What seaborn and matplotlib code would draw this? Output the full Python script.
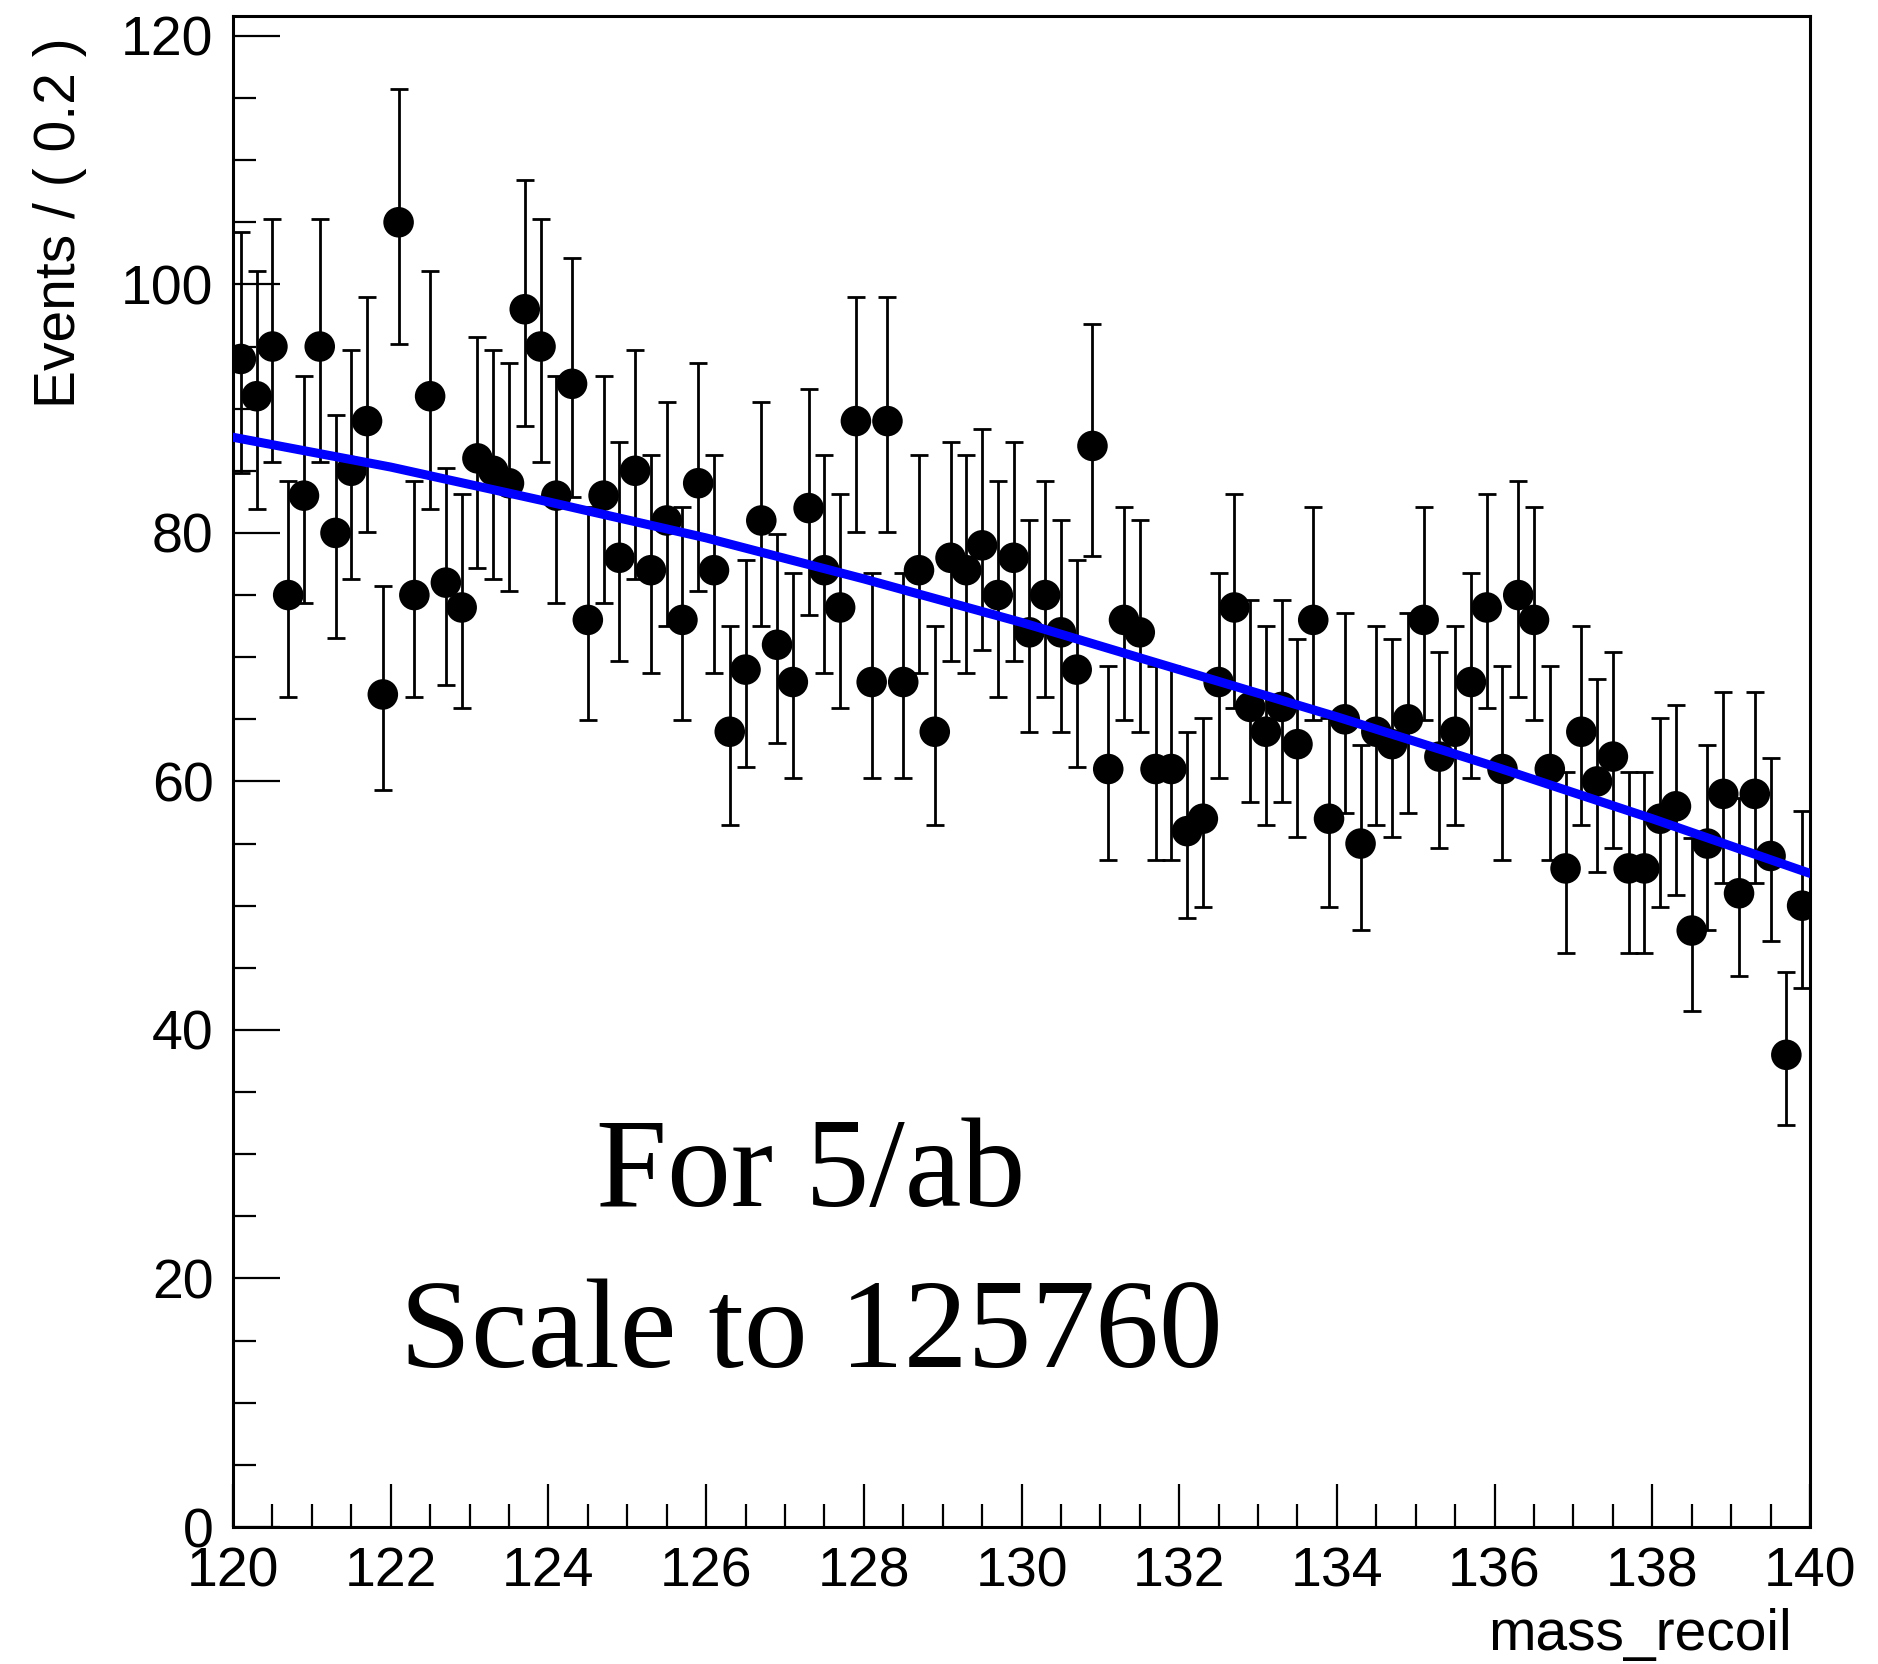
import numpy as np
import pandas as pd
import matplotlib
matplotlib.use("Agg")
import matplotlib.pyplot as plt
import seaborn as sns
from matplotlib.ticker import MultipleLocator

# ---------------- data ----------------
mass_min, mass_max, bin_width = 120.0, 140.0, 0.2

counts = [94, 91, 95, 75, 83, 95, 80, 85, 89, 67,
          105, 75, 91, 76, 74, 86, 85, 84, 98, 95,
          83, 92, 73, 83, 78, 85, 77, 81, 73, 84,
          77, 64, 69, 81, 71, 68, 82, 77, 74, 89,
          68, 89, 68, 77, 64, 78, 77, 79, 75, 78,
          72, 75, 72, 69, 87, 61, 73, 72, 61, 61,
          56, 57, 68, 74, 66, 64, 66, 63, 73, 57,
          65, 55, 64, 63, 65, 73, 62, 64, 68, 74,
          61, 75, 73, 61, 53, 64, 60, 62, 53, 53,
          57, 58, 48, 55, 59, 51, 59, 54, 38, 50]

fit_mass = [120, 122, 124, 126, 128, 130, 132, 134, 136, 138, 140]
fit_events = [87.7, 85.3, 82.5, 79.6, 76.3, 72.8, 69.0, 65.2, 61.2, 57.0, 52.6]

x_ticks = [120, 122, 124, 126, 128, 130, 132, 134, 136, 138, 140]
y_ticks = [0, 20, 40, 60, 80, 100, 120]

y_label = "Events / ( 0.2 )"
x_label = "mass_recoil"
note_lines = ["For 5/ab", "Scale to 125760"]

# ---------------- derived ----------------
n_bins = len(counts)
centers = mass_min + bin_width * (np.arange(n_bins) + 0.5)
cnt = np.asarray(counts, dtype=float)
err_lo = np.sqrt(cnt + 0.25) - 0.5   # Poisson interval (approx.)
err_hi = np.sqrt(cnt + 0.25) + 0.5
df = pd.DataFrame({"mass": centers, "events": cnt})
fit_df = pd.DataFrame({"mass": fit_mass, "events": fit_events})

# ---------------- style ----------------
sns.set_theme(style="ticks")
plt.rcParams['font.family'] = ['Liberation Sans', 'DejaVu Sans']

W, H = 1878, 1664
fig = plt.figure(figsize=(W / 100, H / 100), dpi=100)
left, right, bottom, top = 233 / W, 1810 / W, 1 - 1527 / H, 1 - 16 / H
ax = fig.add_axes([left, bottom, right - left, top - bottom])

ax.errorbar(df["mass"], df["events"], yerr=[err_lo, err_hi], fmt='none',
            ecolor='black', elinewidth=2.0, capsize=6.5, capthick=2.0, zorder=2)
sns.scatterplot(data=df, x="mass", y="events", s=22 ** 2, color='black',
                edgecolor='none', linewidth=0, ax=ax, zorder=3, legend=False)
sns.lineplot(data=fit_df, x="mass", y="events", color='#0000ff', lw=6.5,
             ax=ax, zorder=4, legend=False)

ax.set_xlim(mass_min, mass_max)
ax.set_ylim(0, 121.6)
ax.set_xticks(x_ticks)
ax.set_yticks(y_ticks)
ax.xaxis.set_minor_locator(MultipleLocator(0.5))
ax.yaxis.set_minor_locator(MultipleLocator(5))
ax.set_xlabel("")
ax.set_ylabel("")

ax.tick_params(which='both', direction='in', top=False, right=False,
               color='black', labelcolor='black', labelsize=40, pad=14)
ax.tick_params(axis='y', which='major', length=34, width=1.6)
ax.tick_params(axis='y', which='minor', length=16.5, width=1.6)
ax.tick_params(axis='x', which='major', length=31, width=1.6)
ax.tick_params(axis='x', which='minor', length=16.5, width=1.6)
for sp in ax.spines.values():
    sp.set_visible(True)
    sp.set_color('black')
    sp.set_linewidth(2.2)

fig.text(60 / W, 1 - 37 / H, y_label, rotation=90, ha='center', va='top',
         fontsize=41, color='black')
fig.text(1792 / W, 1 - 1650 / H, x_label, ha='right', va='baseline',
         fontsize=41, color='black')

fig.text(811 / W, 1 - 1206 / H, note_lines[0], ha='center', va='baseline',
         fontsize=92, family=['Liberation Serif', 'DejaVu Serif'], color='black')
fig.text(811 / W, 1 - 1367 / H, note_lines[1], ha='center', va='baseline',
         fontsize=92, family=['Liberation Serif', 'DejaVu Serif'], color='black')

fig.savefig("out.png", dpi=100, facecolor='white')
